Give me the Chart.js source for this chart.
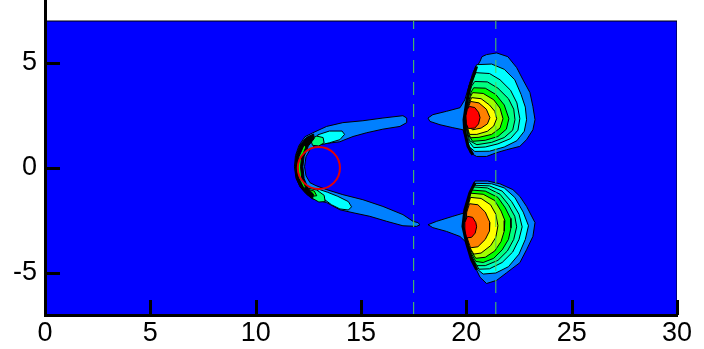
<!DOCTYPE html>
<html><head><meta charset="utf-8">
<script src="https://cdn.jsdelivr.net/npm/chart.js@4/dist/chart.umd.min.js"></script>
<style>html,body{margin:0;padding:0;background:#fff;}#wrap{width:704px;height:349px;}</style>
</head><body><div id="wrap"><canvas id="c" width="704" height="349"></canvas></div>
<script>
// ---- data (x, y in plot units) ----
const X_TICK_LABELS = [0, 5, 10, 15, 20, 25, 30];
const Y_TICK_LABELS = [-5, 0, 5];
const DOMAIN = [[0,-7],[30,-7],[30,7],[0,7]];
const DASH_X = [17.5, 21.4];
const CIRCLE_CENTER = [13, 0];
const CIRCLE_RADIUS = 1;

// bow-shock cone around the sphere
const CONE_L1 = [[17.17,2.38],[16.99,2.49],[16.04,2.38],[15.09,2.25],[14.14,2.16],[13.37,1.98],[12.72,1.68],
 [12.34,1.49],[12.05,1.06],[11.89,0.59],[11.84,0.06],[11.91,-0.46],[12.10,-0.89],[12.39,-1.22],[12.67,-1.46],
 [13.37,-1.65],[14.0,-1.99],[14.62,-2.13],[15.42,-2.30],[16.22,-2.54],[16.99,-2.75],[17.64,-2.78],[17.80,-2.70],[17.70,-2.60],
 [17.47,-2.54],[16.99,-2.22],[16.04,-1.83],[15.09,-1.51],[14.14,-1.27],[13.37,-1.03],[12.86,-0.84],
 [12.58,-0.70],[12.39,-0.37],[12.32,0.06],[12.39,0.54],[12.58,0.87],[12.86,1.11],
 [13.2,1.15],[13.6,1.2],[14.0,1.25],[14.24,1.35],[14.62,1.5],[15.27,1.68],[16.04,1.85],[16.85,1.98],[17.17,2.16]];
const CONE_UP_L2 = [[12.95,1.58],[13.5,1.76],[14.1,1.76],[14.22,1.6],[14.0,1.35],[13.5,1.2],[13.15,1.12],[12.9,1.25]];
const CONE_DN_L2 = [[12.95,-1.0],[13.4,-1.15],[13.9,-1.35],[14.4,-1.6],[14.55,-1.85],[14.4,-2.0],[14.0,-1.95],[13.6,-1.75],[13.2,-1.45],[12.95,-1.25]];
const CONE_UP_L4 = [[12.6,1.38],[12.9,1.52],[13.2,1.45],[13.25,1.2],[13.0,1.05],[12.7,1.08]];
const CONE_DN_L4 = [[12.45,-0.95],[12.9,-1.05],[13.25,-1.3],[13.3,-1.6],[13.0,-1.62],[12.65,-1.42],[12.42,-1.15]];
const CONE_DN_L5 = [[12.5,-1.02],[12.78,-1.1],[12.9,-1.32],[12.65,-1.35],[12.48,-1.18]];
const BOW_SHOCK = [[12.75,1.62],[12.4,1.45],[12.1,1.1],[11.92,0.6],[11.86,0.06],[11.93,-0.5],[12.12,-0.92],[12.42,-1.25],[12.7,-1.45],
 [12.75,-1.25],[12.5,-1.0],[12.3,-0.5],[12.24,0.06],[12.3,0.55],[12.5,1.05],[12.78,1.4]];
const BOW_CORE = [[12.3,1.1],[12.06,0.55],[11.99,0.06],[12.06,-0.5],[12.3,-0.98],[12.36,-0.9],[12.18,-0.45],[12.13,0.06],[12.18,0.5],[12.38,1.0]];

// upper plume levels (outer -> inner)
const UP_L1 = [[20.74,5.3],[20.96,5.4],[21.44,5.48],[21.97,5.3],[22.39,4.78],[22.69,4.20],[23.02,3.59],[23.16,2.93],[23.26,2.30],[23.16,1.82],[22.86,1.35],[22.54,1.03],[21.91,0.87],[21.44,0.73],[20.96,0.55],[20.49,0.55],[20.17,0.73],[20.01,1.35],[19.84,1.82],[19.36,1.92],[18.75,2.06],[18.27,2.22],[18.18,2.38],[18.41,2.54],[19.06,2.70],[19.70,2.87],[19.93,3.25],[20.17,4.06],[20.41,4.68],[20.65,5.08]];
const UP_L2 = [[20.49,4.92],[21.2,4.95],[21.8,4.7],[22.3,4.2],[22.6,3.5],[22.8,2.9],[22.86,2.3],[22.75,1.75],[22.4,1.3],[21.8,1.0],[21.1,0.8],[20.4,0.79],[20.15,1.0],[20.0,1.5],[19.95,2.3],[19.98,3.0],[20.1,3.8],[20.3,4.5]];
const UP_L3 = [[20.45,4.54],[21.1,4.5],[21.6,4.2],[22.1,3.7],[22.4,3.1],[22.54,2.35],[22.45,1.8],[22.1,1.4],[21.5,1.15],[20.9,1.0],[20.35,0.97],[20.1,1.3],[20.0,1.9],[19.97,2.5],[20.05,3.3],[20.2,4.0]];
const UP_L4 = [[20.4,4.12],[21.0,4.1],[21.5,3.8],[22.0,3.3],[22.25,2.8],[22.31,2.3],[22.2,1.8],[21.8,1.45],[21.2,1.22],[20.5,1.11],[20.15,1.3],[20.02,1.9],[20.0,2.6],[20.1,3.4],[20.25,3.9]];
const UP_L5 = [[20.35,3.82],[20.9,3.8],[21.4,3.5],[21.8,3.0],[22.02,2.35],[21.9,1.85],[21.5,1.5],[20.9,1.32],[20.3,1.27],[20.08,1.6],[20.02,2.3],[20.1,3.1],[20.22,3.6]];
const UP_L6 = [[20.3,3.59],[20.8,3.55],[21.3,3.25],[21.6,2.85],[21.74,2.35],[21.6,1.9],[21.2,1.6],[20.6,1.46],[20.2,1.44],[20.05,1.8],[20.02,2.4],[20.1,3.0],[20.2,3.4]];
const UP_L7 = [[20.25,3.35],[20.7,3.3],[21.1,3.0],[21.35,2.7],[21.44,2.35],[21.3,2.0],[21.0,1.75],[20.5,1.6],[20.15,1.6],[20.05,1.95],[20.03,2.5],[20.1,3.0]];
const UP_L8 = [[20.2,3.17],[20.6,3.1],[20.95,2.8],[21.12,2.4],[21.0,2.1],[20.7,1.9],[20.3,1.82],[20.08,2.0],[20.05,2.5],[20.1,2.9]];
const UP_L9 = [[20.15,2.93],[20.4,2.88],[20.58,2.65],[20.65,2.4],[20.58,2.1],[20.4,1.9],[20.1,1.88],[20.0,2.1],[19.98,2.5],[20.05,2.8]];
const UP_SHOCK = [[20.49,4.84],[20.17,3.89],[20.01,3.10],[19.89,2.30],[19.93,1.68],[20.08,1.03],[20.31,0.63]];

// lower plume levels (outer -> inner)
const DN_L1 = [[20.41,-0.62],[21.0,-0.62],[21.59,-0.75],[22.21,-1.03],[22.54,-1.35],[22.86,-1.83],[23.26,-2.60],[23.16,-3.26],[22.86,-3.89],[22.54,-4.51],[21.91,-4.99],[21.44,-5.35],[20.96,-5.5],[20.65,-5.2],[20.25,-4.37],[20.01,-3.56],[19.70,-3.26],[19.06,-3.02],[18.41,-2.84],[18.18,-2.70],[18.59,-2.54],[19.36,-2.30],[19.93,-2.13],[20.01,-1.65],[20.17,-1.13]];
const DN_L2 = [[20.45,-0.73],[21.2,-0.75],[21.8,-0.95],[22.3,-1.4],[22.7,-2.1],[22.95,-2.75],[22.8,-3.4],[22.5,-4.1],[22.0,-4.7],[21.4,-5.0],[20.8,-5.05],[20.5,-4.8],[20.25,-4.2],[20.05,-3.5],[19.95,-2.8],[20.0,-2.0],[20.15,-1.3]];
const DN_L3 = [[20.35,-0.82],[21.1,-0.85],[21.7,-1.1],[22.15,-1.6],[22.5,-2.2],[22.65,-2.8],[22.5,-3.4],[22.2,-4.0],[21.7,-4.5],[21.1,-4.8],[20.6,-4.82],[20.35,-4.4],[20.1,-3.8],[19.97,-3.0],[20.0,-2.2],[20.1,-1.5]];
const DN_L4 = [[20.3,-0.9],[21.0,-0.95],[21.6,-1.25],[22.0,-1.75],[22.3,-2.3],[22.39,-2.8],[22.25,-3.4],[21.95,-3.95],[21.5,-4.4],[20.9,-4.65],[20.5,-4.65],[20.25,-4.2],[20.05,-3.6],[19.98,-2.9],[20.02,-2.1],[20.12,-1.4]];
const DN_L5 = [[20.25,-1.05],[20.9,-1.1],[21.5,-1.4],[21.85,-1.9],[22.1,-2.4],[22.12,-2.85],[22.0,-3.4],[21.7,-3.9],[21.3,-4.3],[20.8,-4.5],[20.45,-4.45],[20.2,-4.0],[20.03,-3.4],[19.98,-2.8],[20.05,-1.9],[20.12,-1.4]];
const DN_L6 = [[20.2,-1.2],[20.8,-1.25],[21.35,-1.55],[21.65,-2.05],[21.83,-2.5],[21.8,-3.0],[21.65,-3.5],[21.35,-3.95],[20.9,-4.25],[20.45,-4.3],[20.2,-3.9],[20.03,-3.3],[19.98,-2.7],[20.05,-1.9]];
const DN_L7 = [[20.2,-1.4],[20.7,-1.45],[21.15,-1.75],[21.4,-2.2],[21.5,-2.75],[21.4,-3.3],[21.15,-3.7],[20.7,-4.05],[20.35,-4.1],[20.12,-3.7],[20.0,-3.1],[19.98,-2.5],[20.05,-1.9]];
const DN_L8 = [[20.15,-1.7],[20.55,-1.75],[20.9,-2.1],[21.12,-2.6],[21.1,-3.0],[20.9,-3.4],[20.55,-3.75],[20.2,-3.8],[20.03,-3.3],[19.97,-2.7],[20.02,-2.1]];
const DN_L9 = [[20.05,-2.3],[20.3,-2.35],[20.45,-2.6],[20.49,-2.8],[20.42,-3.1],[20.25,-3.3],[20.0,-3.33],[19.93,-3.0],[19.93,-2.6]];
const DN_SHOCK = [[20.41,-0.70],[20.17,-1.18],[19.93,-1.99],[19.84,-2.78],[20.01,-3.56],[20.25,-4.37],[20.49,-4.84]];

// ---- styles ----
const BG = 'rgb(0,0,255)';
const LEVEL_COLORS = ['rgb(0,128,255)','rgb(0,255,255)','rgb(0,255,192)','rgb(0,255,128)','rgb(0,255,0)',
  'rgb(160,255,0)','rgb(255,255,0)','rgb(255,128,0)','rgb(255,0,0)'];
const FONT = {family: "'Liberation Sans', Arial, sans-serif", size: 27};

const closed = a => a.concat([a[0]]);
const poly = (arr, color, bw) => ({data: closed(arr), showLine: true, fill: 'shape', backgroundColor: color,
  borderColor: '#000', borderWidth: bw === undefined ? 1 : bw, pointRadius: 0, pointHoverRadius: 0, tension: 0});
const line = (arr, color, w, dash) => ({data: arr, showLine: true, fill: false, borderColor: color, borderWidth: w,
  borderDash: dash || [], pointRadius: 0, pointHoverRadius: 0, tension: 0});

const layers = [
  poly(DOMAIN, BG),
  poly(CONE_L1, LEVEL_COLORS[0]),
  poly(CONE_UP_L2, LEVEL_COLORS[1]),
  poly(CONE_DN_L2, LEVEL_COLORS[1]),
  poly(CONE_UP_L4, LEVEL_COLORS[3]),
  poly(CONE_DN_L4, LEVEL_COLORS[3]),
  poly(CONE_DN_L5, LEVEL_COLORS[4]),
  poly(BOW_SHOCK, '#000'),
  poly(BOW_CORE, LEVEL_COLORS[4]),
];
[UP_L1,UP_L2,UP_L3,UP_L4,UP_L5,UP_L6,UP_L7,UP_L8,UP_L9].forEach((a,i)=>layers.push(poly(a, LEVEL_COLORS[i])));
[DN_L1,DN_L2,DN_L3,DN_L4,DN_L5,DN_L6,DN_L7,DN_L8,DN_L9].forEach((a,i)=>layers.push(poly(a, LEVEL_COLORS[i])));
layers.push(line(UP_SHOCK, '#000', 3));
layers.push(line(DN_SHOCK, '#000', 3));
DASH_X.forEach(x => layers.push(line([[x,-7],[x,7]], 'rgb(80,210,80)', 1, [13, 9])));
layers.push({data: [CIRCLE_CENTER], showLine: false, pointStyle: 'circle',
  pointRadius: c => Math.abs(c.chart.scales.x.getPixelForValue(CIRCLE_RADIUS) - c.chart.scales.x.getPixelForValue(0)),
  pointBackgroundColor: 'rgba(0,0,0,0)', pointBorderColor: 'rgb(230,0,0)', pointBorderWidth: 2, pointHoverRadius: 0});
layers.forEach((d, i) => { d.order = layers.length - i; });

const innerTicks = {
  id: 'innerTicks',
  afterDraw(chart) {
    const {ctx, chartArea} = chart;
    const xs = chart.scales.x, ys = chart.scales.y;
    ctx.save();
    ctx.strokeStyle = '#000';
    xs.ticks.forEach(t => {
      const major = X_TICK_LABELS.includes(t.value);
      const p = Math.round(xs.getPixelForValue(t.value)) + 0.5;
      ctx.lineWidth = major ? 3 : 1;
      ctx.beginPath(); ctx.moveTo(p, chartArea.bottom); ctx.lineTo(p, chartArea.bottom - (major ? 15 : 8)); ctx.stroke();
    });
    ys.ticks.forEach(t => {
      const major = Y_TICK_LABELS.includes(t.value);
      const p = Math.round(ys.getPixelForValue(t.value)) + 0.5;
      ctx.lineWidth = major ? 3 : 1;
      ctx.beginPath(); ctx.moveTo(chartArea.left, p); ctx.lineTo(chartArea.left + (major ? 15 : 8), p); ctx.stroke();
    });
    ctx.restore();
  }
};

new Chart(document.getElementById('c'), {
  type: 'scatter',
  data: {datasets: layers},
  options: {
    responsive: false, animation: false, devicePixelRatio: 1, events: [],
    layout: {padding: {left: 0, right: 27, top: 0, bottom: 0}},
    plugins: {legend: {display: false}, tooltip: {enabled: false}},
    scales: {
      x: {type: 'linear', position: 'bottom', min: 0, max: 30, z: 1,
        afterFit: s => { s.height = 34; s.paddingLeft = 0; s.paddingRight = 0; },
        grid: {display: false, drawTicks: false},
        border: {display: true, color: '#000', width: 3, z: 1},
        ticks: {stepSize: 1, autoSkip: false, maxRotation: 0, minRotation: 0, padding: 2, color: '#000', font: FONT, z: 1,
          callback: v => X_TICK_LABELS.includes(v) ? String(v) : null}},
      y: {type: 'linear', position: 'left', min: -7, max: 8, z: 1,
        afterFit: s => { s.width = 45; s.paddingTop = 0; s.paddingBottom = 0; },
        grid: {display: false, drawTicks: false},
        border: {display: true, color: '#000', width: 3, z: 1},
        ticks: {stepSize: 1, autoSkip: false, padding: 8, color: '#000', font: FONT, z: 1,
          callback: v => Y_TICK_LABELS.includes(v) ? String(v) : null}}
    }
  },
  plugins: [innerTicks]
});
</script></body></html>
